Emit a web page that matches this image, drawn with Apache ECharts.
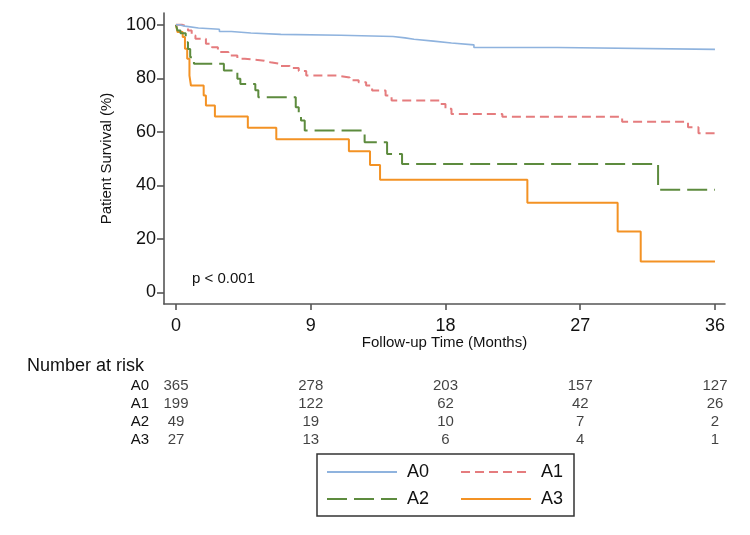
<!DOCTYPE html>
<html>
<head>
<meta charset="utf-8">
<script src="https://cdn.jsdelivr.net/npm/echarts@6/dist/echarts.min.js"></script>
<style>
html,body{margin:0;padding:0;background:#fff;}
#chart{width:750px;height:535px;}
</style>
</head>
<body>
<div id="chart"></div>
<script>
// ---- data ----
var groups = ['A0', 'A1', 'A2', 'A3'];
var a0Time = [0, 0.2, 0.6, 1.5, 2.9, 3.7, 5.0, 7.0, 11.0, 14.5, 15.3, 15.9, 17.2, 18.4, 19.9, 25.5, 36];
var a0Surv = [100, 99.5, 98.8, 98.3, 97.5, 96.9, 96.4, 96.1, 95.6, 95.1, 94.6, 93.9, 93.2, 92.5, 91.5, 90.8, 90.8];
var a1Time = [0, 0.4, 0.8, 1.05, 1.3, 2.0, 2.4, 2.8, 3.5, 4.1, 4.6, 5.9, 6.3, 7.0, 7.6, 8.2, 8.7, 10.8, 11.6, 12.2, 12.7, 13.1, 14.0, 14.4, 17.6, 18.0, 18.4, 21.8, 29.8, 34.2, 34.9, 36];
var a1Surv = [100, 99.3, 97.9, 96.0, 94.8, 92.9, 91.6, 89.8, 88.5, 87.3, 86.6, 86.0, 85.4, 84.6, 83.8, 82.7, 81.0, 80.3, 79.3, 78.5, 77.3, 75.4, 73.6, 71.7, 70.4, 68.6, 66.7, 65.6, 63.8, 61.7, 59.5, 59.5];
var a2Time = [0, 0.1, 0.3, 0.65, 0.8, 0.95, 1.2, 3.2, 4.1, 4.3, 5.3, 5.5, 8.0, 8.2, 8.35, 8.6, 12.6, 14.1, 15.1, 32.2, 36];
var a2Surv = [100, 97.9, 96.8, 93.5, 90.9, 87.9, 85.4, 82.9, 79.8, 77.9, 75.5, 72.9, 69.2, 66.7, 64.2, 60.5, 56.1, 51.7, 48.0, 38.3, 38.3];
var a3Time = [0, 0.1, 0.45, 0.6, 0.75, 0.9, 1.0, 1.85, 2.0, 2.6, 4.8, 6.7, 11.55, 12.96, 13.63, 23.47, 29.5, 31.04, 36];
var a3Surv = [100, 97.3, 95.4, 91.0, 87.3, 81.0, 77.3, 73.6, 69.8, 65.7, 61.5, 57.2, 52.7, 47.6, 42.1, 33.5, 22.7, 11.5, 11.5];

var xTicks = [0, 9, 18, 27, 36];
var yTicks = [0, 20, 40, 60, 80, 100];
var riskTimes = [0, 9, 18, 27, 36];
var riskA0 = [365, 278, 203, 157, 127];
var riskA1 = [199, 122, 62, 42, 26];
var riskA2 = [49, 19, 10, 7, 2];
var riskA3 = [27, 13, 6, 4, 1];

// ---- build ----
var FONT = 'Liberation Sans, Arial, Helvetica, sans-serif';
function pairs(t, v) { return t.map(function (x, i) { return [x, v[i]]; }); }
function riskData(g, counts) { return riskTimes.map(function (t, i) { return [t, g, counts[i]]; }); }

var colors = ['#8fb3de', '#e57c7e', '#5d8b3e', '#f39224'];
var styles = [
  { width: 1.6, type: 'solid' },
  { width: 2, type: [9, 5] },
  { width: 2, type: [20, 7] },
  { width: 2, type: 'solid' }
];
var curves = [pairs(a0Time, a0Surv), pairs(a1Time, a1Surv), pairs(a2Time, a2Surv), pairs(a3Time, a3Surv)];
var risks = [riskA0, riskA1, riskA2, riskA3];

var axisLineStyle = { color: '#555', width: 1.6 };

var series = [];
groups.forEach(function (g, i) {
  series.push({
    name: g, type: 'line', step: 'end', xAxisIndex: 0, yAxisIndex: 0,
    data: curves[i], symbol: 'none', showSymbol: false,
    lineStyle: { color: colors[i], width: styles[i].width, type: styles[i].type },
    itemStyle: { color: colors[i] },
    z: 3 + (3 - i)
  });
});
groups.forEach(function (g, i) {
  series.push({
    name: 'risk' + g, type: 'scatter', xAxisIndex: 1, yAxisIndex: 1,
    data: riskData(g, risks[i]), symbolSize: 0,
    label: {
      show: true, position: 'inside', color: '#111', fontSize: 15, fontFamily: FONT,
      formatter: function (p) { return String(p.value[2]); }
    },
    silent: true
  });
});

var legendCommon = {
  left: 326, padding: 0, orient: 'horizontal',
  itemWidth: 70, itemHeight: 14, itemGap: 31,
  itemStyle: { color: 'rgba(0,0,0,0)', borderWidth: 0, opacity: 0 },
  textStyle: { fontSize: 18, color: '#111', fontFamily: FONT, padding: [0, 0, 0, 5] }
};

var chart = echarts.init(document.getElementById('chart'), null, { renderer: 'canvas' });
chart.setOption({
  animation: false,
  backgroundColor: '#fff',
  textStyle: { fontFamily: FONT },
  title: [
    { text: 'Number at risk', left: 27, top: 357, padding: 0,
      textStyle: { fontSize: 18, fontWeight: 'normal', color: '#111', fontFamily: FONT } },
    { text: 'p < 0.001', left: 192, top: 271, padding: 0,
      textStyle: { fontSize: 15, fontWeight: 'normal', color: '#111', fontFamily: FONT } }
  ],
  legend: [
    Object.assign({ data: ['A0', 'A1'], top: 463 }, legendCommon),
    Object.assign({ data: ['A2', 'A3'], top: 490 }, legendCommon)
  ],
  graphic: [
    { type: 'rect', shape: { x: 317, y: 454, width: 257, height: 62 },
      style: { fill: 'none', stroke: '#333', lineWidth: 1.5 }, silent: true }
  ],
  grid: [
    { left: 164, right: 25, top: 13, bottom: 231 },
    { left: 164, right: 25, top: 377, height: 72 }
  ],
  xAxis: [
    { type: 'value', gridIndex: 0, min: -0.8, max: 36.67,
      name: 'Follow-up Time (Months)', nameLocation: 'middle', nameGap: 31, nameMoveOverlap: false,
      nameTextStyle: { fontSize: 15, color: '#111', fontFamily: FONT },
      axisLine: { show: true, onZero: false, lineStyle: axisLineStyle },
      axisTick: { show: true, length: 6, lineStyle: axisLineStyle, customValues: xTicks },
      axisLabel: { fontSize: 18, color: '#111', margin: 13, customValues: xTicks, fontFamily: FONT },
      splitLine: { show: false }
    },
    { type: 'value', gridIndex: 1, min: -0.8, max: 36.67, show: false }
  ],
  yAxis: [
    { type: 'value', gridIndex: 0, min: -4.35, max: 104.4,
      name: 'Patient Survival (%)', nameLocation: 'middle', nameGap: 50,
      nameTextStyle: { fontSize: 15, color: '#111', fontFamily: FONT },
      axisLine: { show: true, onZero: false, lineStyle: axisLineStyle },
      axisTick: { show: true, length: 7, lineStyle: axisLineStyle, customValues: yTicks },
      axisLabel: { fontSize: 18, color: '#111', margin: 8, customValues: yTicks, fontFamily: FONT },
      splitLine: { show: false }
    },
    { type: 'category', gridIndex: 1, data: groups, inverse: true,
      axisLine: { show: false }, axisTick: { show: false }, splitLine: { show: false },
      axisLabel: { fontSize: 15, color: '#111', margin: 15, interval: 0, fontFamily: FONT }
    }
  ],
  series: series
});
</script>
</body>
</html>
